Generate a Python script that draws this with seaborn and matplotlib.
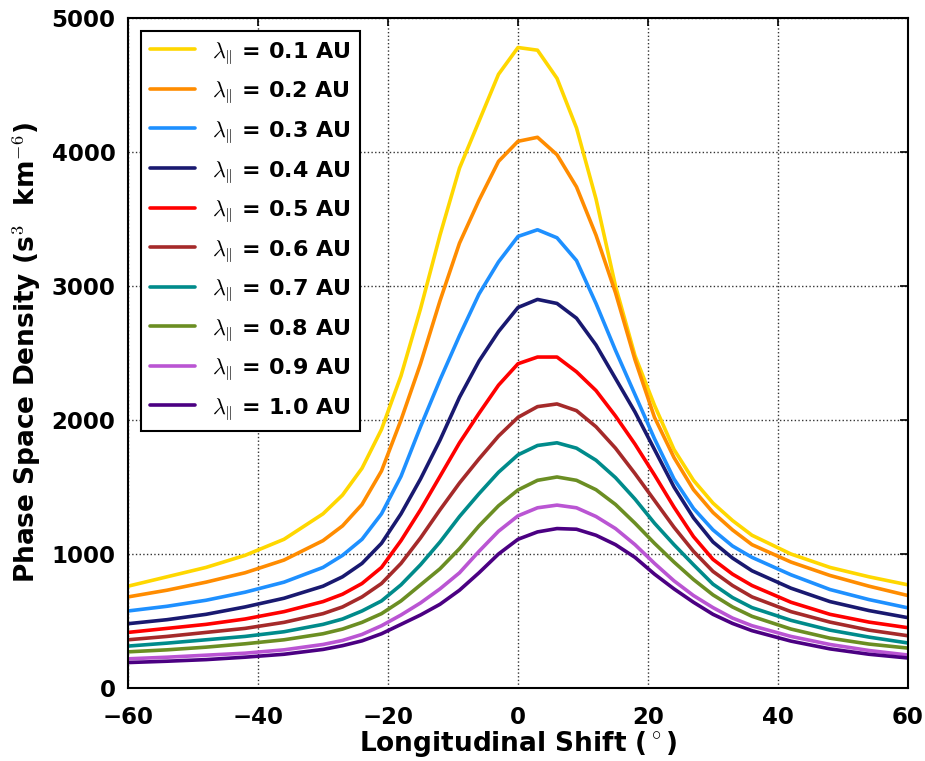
import matplotlib
matplotlib.use('Agg')
from matplotlib import pyplot as plt
import pandas as pd
import numpy as np
import seaborn as sns

# longitudinal shift (degrees)
shift = [-60, -54, -48, -42, -36, -30, -27, -24, -21, -18, -15, -12, -9, -6, -3, 0,
         3, 6, 9, 12, 15, 18, 21, 24, 27, 30, 33, 36, 42, 48, 54, 60]

# phase space density, one list per lambda
psd_01 = [760, 830, 900, 990, 1110, 1300, 1440, 1640, 1930, 2330, 2830, 3380, 3880, 4230, 4580, 4780,
          4760, 4550, 4180, 3650, 3000, 2480, 2110, 1780, 1550, 1380, 1250, 1140, 1000, 900, 830, 770]
psd_02 = [680, 730, 790, 860, 955, 1100, 1210, 1370, 1620, 2000, 2420, 2890, 3320, 3640, 3930, 4080,
          4110, 3980, 3740, 3380, 2950, 2450, 2020, 1720, 1480, 1310, 1180, 1070, 940, 840, 760, 690]
psd_03 = [575, 610, 655, 715, 790, 900, 990, 1110, 1300, 1580, 1950, 2300, 2630, 2940, 3180, 3370,
          3420, 3360, 3190, 2870, 2520, 2190, 1860, 1560, 1340, 1180, 1060, 975, 845, 735, 660, 598]
psd_04 = [480, 510, 550, 605, 670, 760, 830, 930, 1080, 1300, 1560, 1850, 2170, 2440, 2660, 2840,
          2900, 2870, 2760, 2560, 2310, 2060, 1780, 1500, 1270, 1090, 970, 875, 745, 645, 578, 525]
psd_05 = [415, 445, 475, 515, 570, 645, 700, 780, 900, 1100, 1330, 1580, 1830, 2050, 2260, 2420,
          2470, 2470, 2360, 2220, 2030, 1820, 1590, 1350, 1130, 960, 850, 765, 640, 550, 492, 450]
psd_06 = [360, 385, 415, 445, 490, 555, 605, 680, 780, 930, 1120, 1330, 1530, 1710, 1880, 2020,
          2100, 2120, 2070, 1950, 1790, 1600, 1400, 1200, 1020, 870, 765, 680, 570, 492, 432, 390]
psd_07 = [313, 335, 360, 385, 420, 475, 515, 575, 650, 770, 920, 1090, 1280, 1450, 1610, 1740,
          1810, 1830, 1790, 1700, 1570, 1410, 1230, 1070, 920, 775, 675, 600, 505, 432, 380, 336]
psd_08 = [270, 285, 305, 330, 360, 405, 440, 490, 555, 650, 770, 890, 1040, 1210, 1360, 1478,
          1550, 1575, 1550, 1480, 1370, 1230, 1080, 940, 810, 695, 605, 535, 440, 372, 328, 298]
psd_09 = [218, 230, 245, 260, 285, 325, 355, 400, 465, 545, 635, 740, 860, 1020, 1170, 1285,
          1345, 1365, 1345, 1280, 1190, 1070, 930, 800, 690, 600, 522, 465, 385, 325, 280, 246]
psd_10 = [190, 200, 212, 230, 252, 288, 316, 352, 405, 475, 545, 625, 730, 860, 1000, 1110,
          1165, 1190, 1185, 1140, 1070, 975, 850, 740, 640, 550, 482, 428, 350, 292, 252, 224]

labels = [r'$\lambda_{\|}$ = 0.1 AU', r'$\lambda_{\|}$ = 0.2 AU', r'$\lambda_{\|}$ = 0.3 AU',
          r'$\lambda_{\|}$ = 0.4 AU', r'$\lambda_{\|}$ = 0.5 AU', r'$\lambda_{\|}$ = 0.6 AU',
          r'$\lambda_{\|}$ = 0.7 AU', r'$\lambda_{\|}$ = 0.8 AU', r'$\lambda_{\|}$ = 0.9 AU',
          r'$\lambda_{\|}$ = 1.0 AU']
colors = ['gold', 'darkorange', 'dodgerblue', 'midnightblue', 'red', 'brown',
          'darkcyan', 'olivedrab', 'mediumorchid', 'indigo']

series = [psd_01, psd_02, psd_03, psd_04, psd_05, psd_06, psd_07, psd_08, psd_09, psd_10]
df = pd.concat([pd.DataFrame({'shift': shift, 'psd': s, 'lam': lab})
                for s, lab in zip(series, labels)], ignore_index=True)

sns.set_style('white')
plt.rcParams['font.family'] = ['DejaVu Sans']
plt.rcParams['mathtext.fontset'] = 'cm'
plt.rcParams['text.color'] = 'black'
plt.rcParams['axes.labelcolor'] = 'black'
plt.rcParams['xtick.color'] = 'black'
plt.rcParams['ytick.color'] = 'black'

fig = plt.figure(figsize=(9.25, 7.61), dpi=100)
ax = fig.add_axes([0.1384, 0.0959, 0.8432, 0.8804])
sns.lineplot(data=df, x='shift', y='psd', hue='lam', hue_order=labels,
             palette=colors, sort=False, linewidth=2.6, ax=ax)

ax.set_xlim(-60, 60)
ax.set_ylim(0, 5000)
ax.set_xticks([-60, -40, -20, 0, 20, 40, 60])
ax.set_yticks([0, 1000, 2000, 3000, 4000, 5000])
ax.set_xticklabels(['\u221260', '\u221240', '\u221220', '0', '20', '40', '60'])
ax.grid(True, color='black', linestyle=':', linewidth=1.0, alpha=0.8)
ax.tick_params(direction='in', length=6, width=1.2, top=True, right=True,
               labelsize=16.5, colors='black')
ax.tick_params(axis='x', pad=13)
ax.tick_params(axis='y', pad=9)
for lab in ax.get_xticklabels() + ax.get_yticklabels():
    lab.set_fontweight('bold')
for sp in ax.spines.values():
    sp.set_color('black')
    sp.set_linewidth(1.5)

ax.set_xlabel(r'Longitudinal Shift ($^\circ$)', fontsize=19, fontweight='bold', labelpad=0)
ax.set_ylabel(r'Phase Space Density (s$^3$  km$^{-6}$)', fontsize=19, fontweight='bold', labelpad=6)

leg = ax.legend(loc='upper left', prop={'weight': 'bold', 'size': 16},
                fancybox=False, framealpha=1, edgecolor='black',
                handlelength=2.0, labelspacing=0.63, borderaxespad=0.6)
leg.get_frame().set_linewidth(1.5)

fig.savefig('out.png', dpi=100)
